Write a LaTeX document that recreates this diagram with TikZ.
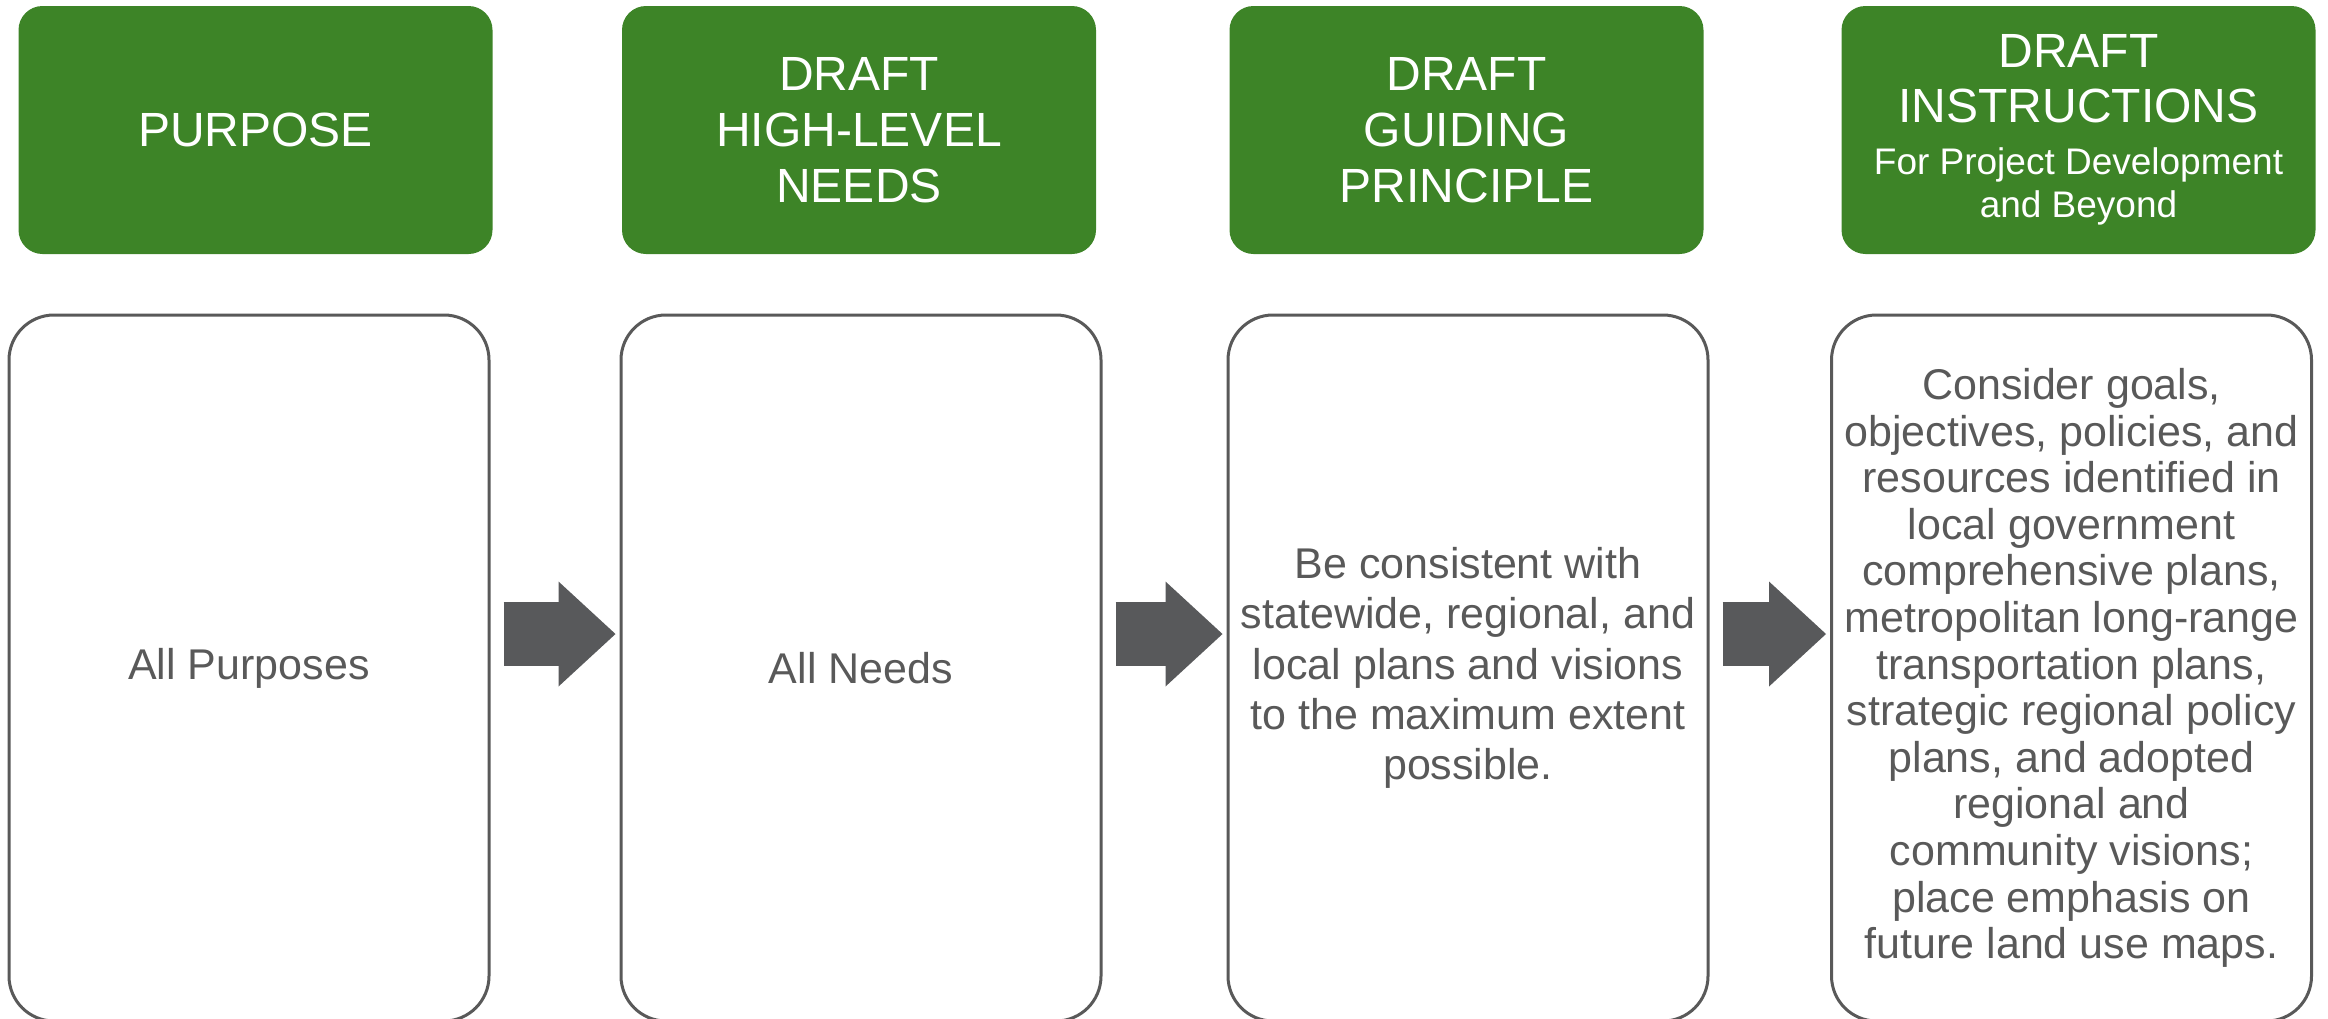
\documentclass[tikz,border=0pt]{standalone}
\usepackage{fontspec}
\setmainfont{Liberation Sans}
\usetikzlibrary{arrows.meta}
\definecolor{headgreen}{RGB}{61,132,39}
\definecolor{boxgray}{RGB}{89,89,89}
\definecolor{arrowgray}{RGB}{88,89,91}
\newcommand{\headfont}{\fontsize{24}{28}\selectfont}
\newcommand{\subfont}{\fontsize{18.5}{21.5}\selectfont}
\newcommand{\bodyfont}{\fontsize{21.5}{25.2}\selectfont}
\newcommand{\densefont}{\fontsize{21.5}{23.3}\selectfont}
\begin{document}
\begin{tikzpicture}[x=0.5pt, y=-0.5pt,
        header/.style={fill=headgreen, text=white, rounded corners=12pt,
            minimum width=237pt, minimum height=124pt, align=center, font=\headfont},
        content/.style={draw=boxgray, line width=1.5pt, rounded corners=22.5pt,
            minimum width=240pt, minimum height=353pt, align=center,
            text=boxgray, font=\bodyfont},
        blockarrow/.style={arrowgray, line width=32pt,
            -{Triangle[length=28.5pt, width=52.5pt, line width=0pt]}}]
    \useasboundingbox (0,0) rectangle (2328,1018);
    % headers
    \node[header] (h1) at (255.5, 130) {PURPOSE};
    \node[header] (h2) at (859, 130) {DRAFT\\HIGH-LEVEL\\NEEDS};
    \node[header] (h3) at (1466.5, 130) {DRAFT\\GUIDING\\PRINCIPLE};
    \node[header] (h4) at (2078.5, 130) {DRAFT\\[-0.8pt]INSTRUCTIONS\\[-2pt]{\subfont For Project Development}\\[-6.4pt]{\subfont and Beyond}};
    % contents
    \node[content] (c1) at (249, 668) {All Purposes};
    \node[content] (c2) at (861, 668) {All Needs};
    \node[content] (c3) at (1468, 668) {Be consistent with\\statewide, regional, and\\local plans and visions\\to the maximum extent\\possible.};
    \node[content, font=\densefont] (c4) at (2071.5, 668) {Consider goals,\\objectives, policies, and\\resources identified in\\local government\\comprehensive plans,\\metropolitan long-range\\transportation plans,\\strategic regional policy\\plans, and adopted\\regional and\\community visions;\\place emphasis on\\future land use maps.};
    % arrows
    \draw[blockarrow] ([shift={(6.5pt,17pt)}]c1.east) -- ([shift={(-2pt,17pt)}]c2.west);
    \draw[blockarrow] ([shift={(6.5pt,17pt)}]c2.east) -- ([shift={(-2pt,17pt)}]c3.west);
    \draw[blockarrow] ([shift={(6.5pt,17pt)}]c3.east) -- ([shift={(-2pt,17pt)}]c4.west);
\end{tikzpicture}
\end{document}
